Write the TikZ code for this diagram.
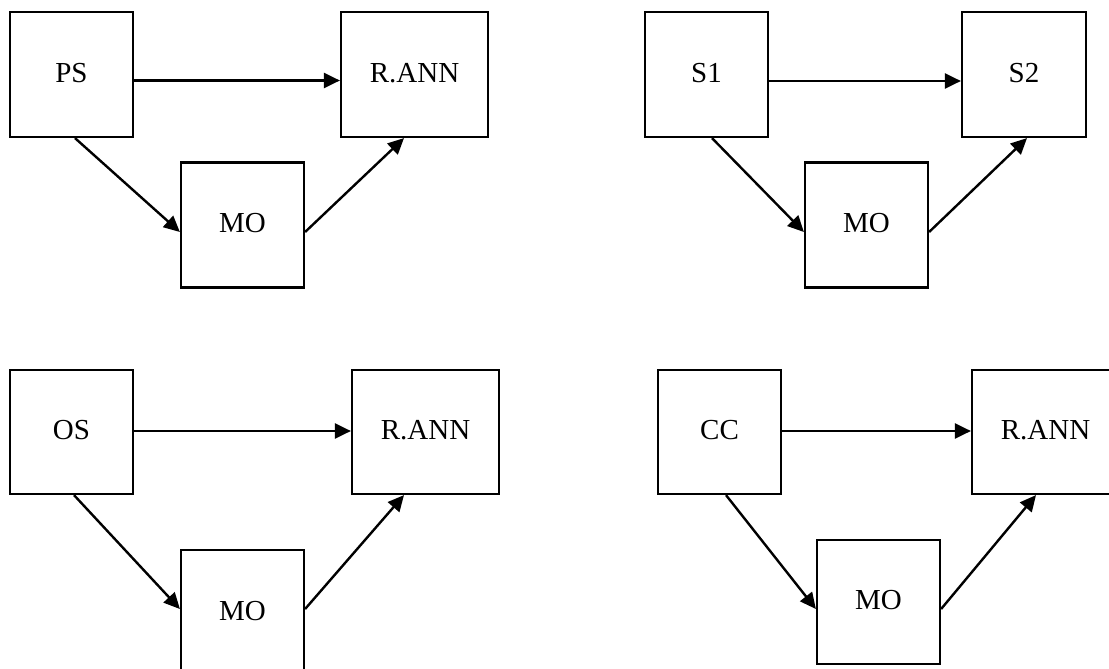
\documentclass[tikz,border=0pt]{standalone}
\usepackage{fontspec}
\setmainfont{Liberation Serif}
\usetikzlibrary{arrows.meta}
\begin{document}
\begin{tikzpicture}[x=1pt,y=-1pt,
  box/.style={draw=black, line width=2.2pt, inner sep=0pt, minimum width=123pt, minimum height=125pt,
    font=\fontsize{29}{32}\selectfont, text height=19pt, text depth=4pt},
  wbox/.style={box, minimum width=147pt},
  arr/.style={line width=2.4pt, -{Triangle[length=16pt,width=15pt]}}]
\clip (0,0) rectangle (1109,669);
\fill[white] (0,0) rectangle (1109,669);
% top-left
\node[box]  (PS)  at (71.5,74.5) {PS};
\node[wbox] (RA1) at (414.5,74.5) {R.ANN};
\node[box]  (MO1) at (242.5,225) {MO};
\draw[arr] ([yshift=-6pt]PS.east) -- ([yshift=-6pt]RA1.west);
\draw[arr] ([xshift=3.5pt]PS.south) -- ([yshift=-7pt]MO1.west);
\draw[arr] ([yshift=-7pt]MO1.east) -- ([xshift=-10.5pt]RA1.south);
% top-right
\node[box]  (S1)  at (706.5,74.5) {S1};
\node[box,minimum width=124pt] (S2) at (1024,74.5) {S2};
\node[box]  (MO2) at (866.5,225) {MO};
\draw[arr] ([yshift=-6.5pt]S1.east) -- ([yshift=-6.5pt]S2.west);
\draw[arr] ([xshift=5.5pt]S1.south) -- ([yshift=-7pt]MO2.west);
\draw[arr] ([yshift=-7pt]MO2.east) -- ([xshift=3pt]S2.south);
% bottom-left
\node[box,minimum height=124pt]  (OS)  at (71.5,432) {OS};
\node[wbox,minimum height=124pt] (RA3) at (425.5,432) {R.ANN};
\node[box]  (MO3) at (242.5,612.5) {MO};
\draw[arr] ([yshift=1pt]OS.east) -- ([yshift=1pt]RA3.west);
\draw[arr] ([xshift=2.5pt]OS.south) -- ([yshift=3.5pt]MO3.west);
\draw[arr] ([yshift=3.5pt]MO3.east) -- ([xshift=-21.5pt]RA3.south);
% bottom-right
\node[box,minimum height=124pt]  (CC)  at (719.5,432) {CC};
\node[wbox,minimum height=124pt] (RA4) at (1045.5,432) {R.ANN};
\node[box,minimum height=124pt]  (MO4) at (878.5,602) {MO};
\draw[arr] ([yshift=1pt]CC.east) -- ([yshift=1pt]RA4.west);
\draw[arr] ([xshift=6.5pt]CC.south) -- ([yshift=-7pt]MO4.west);
\draw[arr] ([yshift=-7pt]MO4.east) -- ([xshift=-9.5pt]RA4.south);
\end{tikzpicture}
\end{document}
